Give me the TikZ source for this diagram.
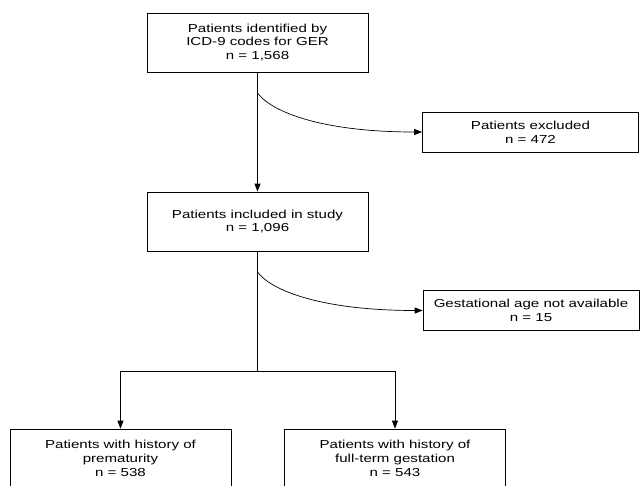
\documentclass[tikz,border=0pt]{standalone}
\usepackage{fontspec}
\setmainfont{Liberation Sans}[FakeStretch=1.3]
\usepackage{tikz}
\usetikzlibrary{arrows.meta}
\usetikzlibrary{positioning}

\begin{document}
\begin{tikzpicture}[x=1pt,y=-1pt,
		box/.style={rectangle, draw, line width=0.7pt, minimum width=221pt, minimum height=59pt, inner sep=0pt, align=center, font=\fontsize{11.6}{13.7}\selectfont},
		smallbox/.style={box, minimum width=216pt, minimum height=40pt},
		flow/.style={line width=0.7pt, -{Triangle[length=8pt,width=6pt]}}]
				\useasboundingbox (0,0) rectangle (640,485);
				\clip (0,0) rectangle (640,485);
				\node[box] (ident) at (257.5,42.5) {Patients identified by\\ICD-9 codes for GER\\n = 1,568};
				\node[smallbox] (excl) at (530.5,132) {Patients excluded\\n = 472};
				\node[box] (incl) at (257.5,221.5) {Patients included in study\\n = 1,096};
				\node[smallbox] (noage) at (531,310.5) {Gestational age not available\\n = 15};
				\node[box] (prem) at (120.5,458.5) {Patients with history of\\prematurity\\n = 538};
				\node[box] (term) at (395,458.5) {Patients with history of\\full-term gestation\\n = 543};
				
				\coordinate (b1) at (257.5,93);
				\coordinate (b2) at (257.5,272);
				\coordinate (split) at (257.5,371);
				
				\draw[flow]  (ident) -- (incl);
				\draw[flow]  (b1) .. controls +(14,19) and +(-100,0) .. (excl.west);
				\draw[line width=0.7pt]  (incl) -- (split);
				\draw[flow]  (b2) .. controls +(14,19) and +(-100,0) .. (noage.west);
				\draw[flow]  (split) -| (prem);
				\draw[flow]  (split) -| (term);
			\end{tikzpicture}
\end{document}
